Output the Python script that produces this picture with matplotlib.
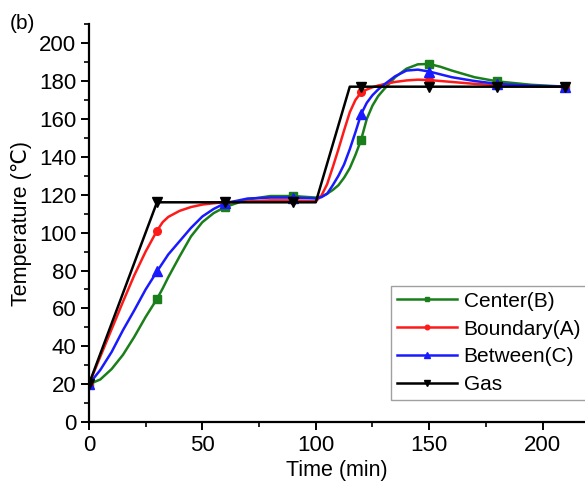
import matplotlib
matplotlib.use("Agg")
import matplotlib.pyplot as plt
from matplotlib.ticker import MultipleLocator

plt.rcParams['font.family'] = ['Liberation Sans', 'DejaVu Sans']

# time grid (min) for read-off curve values
t = [0, 5, 10, 15, 20, 25, 30, 32.5, 35, 40, 45, 50, 55, 60, 70, 80, 90, 100,
     102.5, 105, 107.5, 110, 112.5, 115, 117.5, 120, 122.5, 125, 127.5, 130, 135, 140, 145,
     150, 155, 160, 170, 180, 195, 210]

center_B = [20, 22.5, 28, 35.5, 45, 55.5, 65, 70.5, 76.5, 87.5, 98, 105.5, 110.3, 113.5, 117.5, 119.3, 119.3, 118.5,
            119, 120.5, 122.5, 125, 129, 134, 141, 149, 160, 167, 172, 175.5, 182, 186.5, 188.8,
            189, 187.5, 185.5, 182, 179.8, 178, 177]
boundary_A = [20, 34.5, 49, 63.5, 77.5, 90, 101, 105.5, 108.3, 111.5, 113.5, 114.8, 115.5, 116, 116.5, 117, 117, 116.5,
              119.5, 125.5, 134.5, 144, 154, 163.5, 170, 174, 175.5, 176.7, 177.6, 178.3, 179.5, 180.3, 180.7,
              180.5, 180, 179.5, 178.5, 177.8, 177.2, 177]
between_C = [20, 27.5, 37, 48.5, 59, 70, 79.5, 84, 88.5, 95.5, 102.5, 108.5, 112.5, 115.5, 118, 118.5, 118.5, 118,
             118.7, 120.5, 125, 130, 136, 144, 153, 162.5, 168.5, 172.5, 175.5, 178, 182.5, 185.5, 186,
             185, 183.5, 182, 180, 178.5, 177.5, 177]

t_gas = [0, 30, 60, 90, 100, 115, 120, 150, 180, 210]
gas = [20, 116, 116, 116, 116, 177, 177, 177, 177, 177]

legend_labels = ["Center(B)", "Boundary(A)", "Between(C)", "Gas"]

fig = plt.figure(figsize=(5.85, 4.83), dpi=100)
ax = fig.add_axes([0.152, 0.126, 0.848, 0.824])

mk_idx = [i for i, v in enumerate(t) if v % 30 == 0]
mk_gas = [i for i, v in enumerate(t_gas) if v % 30 == 0]

ax.plot(t, center_B, color='#1a7f1a', lw=1.8, marker='s', ms=5.5, markevery=mk_idx, label=legend_labels[0])
ax.plot(t, boundary_A, color='#ff1a1a', lw=1.8, marker='o', ms=5.5, markevery=mk_idx, label=legend_labels[1])
ax.plot(t, between_C, color='#1a1aff', lw=1.8, marker='^', ms=6.5, markevery=mk_idx, label=legend_labels[2])
ax.plot(t_gas, gas, color='black', lw=1.8, marker='v', ms=6.5, markevery=mk_gas, label=legend_labels[3])

ax.set_xlim(0, 218.7)
ax.set_ylim(0, 210)
ax.xaxis.set_major_locator(MultipleLocator(50))
ax.xaxis.set_minor_locator(MultipleLocator(25))
ax.yaxis.set_major_locator(MultipleLocator(20))
ax.yaxis.set_minor_locator(MultipleLocator(10))
ax.spines['top'].set_visible(False)
ax.spines['right'].set_visible(False)
for s in ('left', 'bottom'):
    ax.spines[s].set_linewidth(1.6)
ax.tick_params(which='major', direction='out', length=6, width=1.4, labelsize=16, pad=3)
ax.tick_params(which='minor', direction='out', length=3.5, width=1.2)

ax.set_xlabel("Time (min)", fontsize=15.5, labelpad=3)
ax.set_ylabel("Temperature (℃)", fontsize=15.5, labelpad=5)

fig.text(0.017, 0.94, "(b)", fontsize=15)

leg = ax.legend(loc='lower right', bbox_to_anchor=(1.005, 0.055), fontsize=15, frameon=True,
                fancybox=False, edgecolor='#888888', handlelength=2.9, handletextpad=0.3,
                borderpad=0.3, labelspacing=0.42, markerscale=0.6, borderaxespad=0.0)
leg.get_frame().set_linewidth(1.0)

fig.savefig("out.png", dpi=100)
